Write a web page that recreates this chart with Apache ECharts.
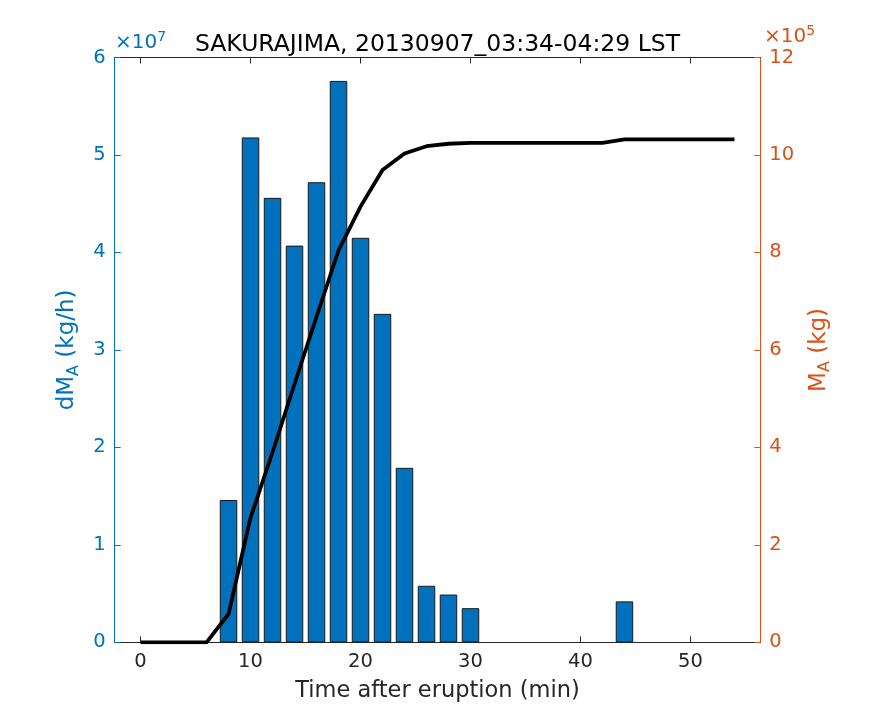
<!DOCTYPE html>
<html>
<head>
<meta charset="utf-8">
<script src="https://cdn.jsdelivr.net/npm/echarts@6/dist/echarts.min.js"></script>
<style>
  html, body { margin: 0; padding: 0; background: #fff; }
  #main { width: 875px; height: 723px; }
</style>
</head>
<body>
<div id="main"></div>
<script>
// bar data: time (min) and ash discharge rate dM_A (kg/h)
const barTimes = [8, 10, 12, 14, 16, 18, 20, 22, 24, 26, 28, 30, 44];
const barRates = [1.46e7, 5.18e7, 4.56e7, 4.07e7, 4.72e7, 5.76e7, 4.15e7, 3.37e7, 1.79e7, 0.58e7, 0.49e7, 0.35e7, 0.42e7];

// cumulative mass M_A (kg)
const lineTimes = [0, 2, 4, 6, 8, 10, 12, 14, 16, 18, 20, 22, 24, 26, 28, 30, 32, 34, 36, 38, 40, 42, 44, 46, 48, 50, 52, 54];
const lineMass = [0, 0, 0, 0, 0.58e5, 2.56e5, 3.9e5, 5.3e5, 6.68e5, 8.04e5, 8.94e5, 9.69e5, 10.03e5, 10.18e5, 10.23e5, 10.25e5,
  10.25e5, 10.25e5, 10.25e5, 10.25e5, 10.25e5, 10.25e5, 10.32e5, 10.32e5, 10.32e5, 10.32e5, 10.32e5, 10.32e5];

const xTicks = [0, 10, 20, 30, 40, 50];

const BLUE = '#0072BD';
const ORANGE = '#D95319';
const DARK = '#262626';
const FONT = 'DejaVu Sans';

let chart = echarts.init(document.getElementById('main'));

let xBase = {
  type: 'value',
  min: -2.35,
  max: 56.35,
  splitLine: { show: false },
  axisLine: { onZero: false, lineStyle: { color: DARK, width: 1 } },
  axisTick: { inside: true, length: 6, customValues: xTicks, lineStyle: { color: DARK } },
};

let option = {
  animation: false,
  textStyle: { fontFamily: FONT },
  title: {
    text: 'SAKURAJIMA, 20130907_03:34-04:29 LST',
    left: 'center',
    top: 28,
    textStyle: { fontFamily: FONT, fontSize: 23.5, fontWeight: 'normal', color: '#000' },
  },
  grid: { left: 114.7, right: 114.7, top: 57.5, bottom: 80.7 },
  xAxis: [
    Object.assign({}, xBase, {
      position: 'bottom',
      axisLabel: { customValues: xTicks, color: DARK, fontSize: 19.5, fontFamily: FONT, margin: 10 },
      name: 'Time after eruption (min)',
      nameLocation: 'middle',
      nameGap: 37,
      nameTextStyle: { color: DARK, fontSize: 22.5, fontFamily: FONT },
    }),
    Object.assign({}, xBase, {
      position: 'top',
      axisLabel: { show: false },
    }),
  ],
  yAxis: [
    {
      type: 'value',
      min: 0,
      max: 6e7,
      interval: 1e7,
      position: 'left',
      splitLine: { show: false },
      axisLine: { show: true, onZero: false, lineStyle: { color: BLUE } },
      axisTick: { inside: true, length: 6, lineStyle: { color: BLUE } },
      axisLabel: {
        color: BLUE, fontSize: 19.5, fontFamily: FONT, margin: 9,
        formatter: v => String(Math.round(v / 1e7)),
      },
      name: '{a|dM}{s|A}{a| (kg/h)}',
      nameLocation: 'middle',
      nameRotate: 90,
      nameGap: 33,
      nameTextStyle: {
        color: BLUE,
        rich: {
          a: { fontSize: 23, color: BLUE, fontFamily: FONT },
          s: { fontSize: 16, color: BLUE, fontFamily: FONT, padding: [13, 0, 0, 0] },
        },
      },
    },
    {
      type: 'value',
      min: 0,
      max: 12e5,
      interval: 2e5,
      position: 'right',
      splitLine: { show: false },
      axisLine: { show: true, onZero: false, lineStyle: { color: ORANGE } },
      axisTick: { inside: true, length: 6, lineStyle: { color: ORANGE } },
      axisLabel: {
        color: ORANGE, fontSize: 19.5, fontFamily: FONT, margin: 9,
        formatter: v => String(Math.round(v / 1e5)),
      },
      name: '{a|M}{s|A}{a| (kg)}',
      nameLocation: 'middle',
      nameRotate: 90,
      nameGap: 44,
      nameTextStyle: {
        color: ORANGE,
        rich: {
          a: { fontSize: 23, color: ORANGE, fontFamily: FONT },
          s: { fontSize: 16, color: ORANGE, fontFamily: FONT, padding: [13, 0, 0, 0] },
        },
      },
    },
  ],
  graphic: [
    {
      type: 'text',
      left: 115,
      top: 30,
      style: {
        text: '{a|×10}{s|7}',
        rich: {
          a: { fontSize: 20, fill: BLUE, fontFamily: FONT },
          s: { fontSize: 14, fill: BLUE, fontFamily: FONT, padding: [0, 0, 12, 0] },
        },
      },
    },
    {
      type: 'text',
      left: 764,
      top: 24,
      style: {
        text: '{a|×10}{s|5}',
        rich: {
          a: { fontSize: 20, fill: ORANGE, fontFamily: FONT },
          s: { fontSize: 14, fill: ORANGE, fontFamily: FONT, padding: [0, 0, 12, 0] },
        },
      },
    },
  ],
  series: [
    {
      type: 'bar',
      xAxisIndex: 0,
      yAxisIndex: 0,
      barWidth: 17.5,
      itemStyle: { color: BLUE, borderColor: '#1a1a1a', borderWidth: 1 },
      data: barTimes.map((t, i) => [t, barRates[i]]),
    },
    {
      type: 'line',
      xAxisIndex: 0,
      yAxisIndex: 1,
      showSymbol: false,
      smooth: false,
      lineStyle: { color: '#000', width: 3.8 },
      data: lineTimes.map((t, i) => [t, lineMass[i]]),
    },
  ],
};
chart.setOption(option);
</script>
</body>
</html>
